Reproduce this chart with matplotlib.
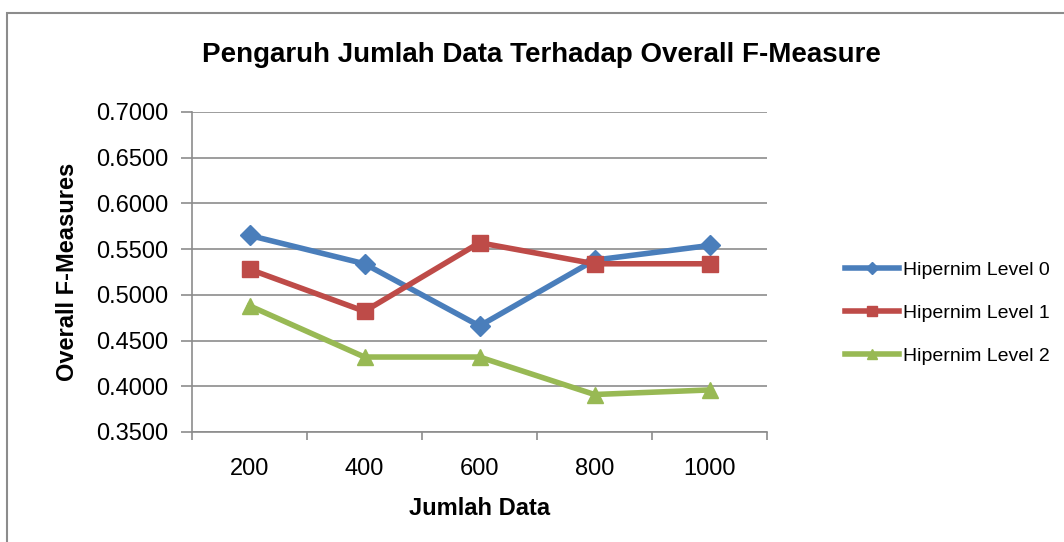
import matplotlib
matplotlib.use("Agg")
import matplotlib.pyplot as plt
from matplotlib.patches import Rectangle

plt.rcParams['font.family'] = ['Liberation Sans Narrow', 'Liberation Sans', 'DejaVu Sans']

# data
jumlah_data = ['200', '400', '600', '800', '1000']
level0 = [0.565, 0.534, 0.466, 0.538, 0.554]
level1 = [0.528, 0.482, 0.557, 0.534, 0.534]
level2 = [0.488, 0.432, 0.432, 0.391, 0.396]
y_ticks = [0.35, 0.40, 0.45, 0.50, 0.55, 0.60, 0.65, 0.70]

fig = plt.figure(figsize=(10.64, 5.42), dpi=100)
# outer chart border (only top and left visible in the reference)
fig.patches.append(Rectangle((7 / 1064, -0.5), 2, 0.5 + 1 - 13 / 542,
                             transform=fig.transFigure, fill=False,
                             edgecolor='#8c8c8c', linewidth=1.5))

ax = fig.add_axes([192 / 1064, 1 - 432 / 542, (767 - 192) / 1064, (432 - 112) / 542])

x = list(range(len(jumlah_data)))
ax.plot(x, level0, color='#4a7ebb', lw=4, marker='D', ms=10, label='Hipernim Level 0')
ax.plot(x, level1, color='#be4b48', lw=4, marker='s', ms=11, label='Hipernim Level 1')
ax.plot(x, level2, color='#98b954', lw=4, marker='^', ms=12, label='Hipernim Level 2')

ax.set_xlim(-0.5, len(jumlah_data) - 0.5)
ax.set_ylim(0.35, 0.70)
ax.set_yticks(y_ticks)
ax.set_yticklabels(['%.4f' % v for v in y_ticks], fontsize=17)
ax.set_xticks(x)
ax.set_xticklabels(jumlah_data, fontsize=17)
ax.set_xticks([i - 0.5 for i in range(len(jumlah_data) + 1)], minor=True)
ax.tick_params(axis='x', which='major', length=0, pad=19)
ax.tick_params(axis='x', which='minor', length=6, width=1.2, color='#8c8c8c', direction='out')
ax.tick_params(axis='y', length=8, width=1.2, color='#8c8c8c', pad=9)

ax.grid(axis='y', color='#8c8c8c', lw=1.2)
ax.set_axisbelow(True)
for s in ['top', 'right']:
    ax.spines[s].set_visible(False)
for s in ['left', 'bottom']:
    ax.spines[s].set_color('#8c8c8c')
    ax.spines[s].set_linewidth(1.2)

ax.set_xlabel('Jumlah Data', fontsize=17, fontweight='bold', labelpad=12)
ax.set_ylabel('Overall F-Measures', fontsize=17, fontweight='bold', labelpad=12)
fig.text(541 / 1064, 1 - 55 / 542, 'Pengaruh Jumlah Data Terhadap Overall F-Measure',
         ha='center', va='center', fontsize=20, fontweight='bold')

ax.legend(loc='center left', bbox_to_anchor=(1.105, 0.372), frameon=False,
          fontsize=14, handlelength=2.8, handletextpad=0.2, labelspacing=1.3,
          markerscale=0.6)

fig.savefig('out.png', dpi=100)
